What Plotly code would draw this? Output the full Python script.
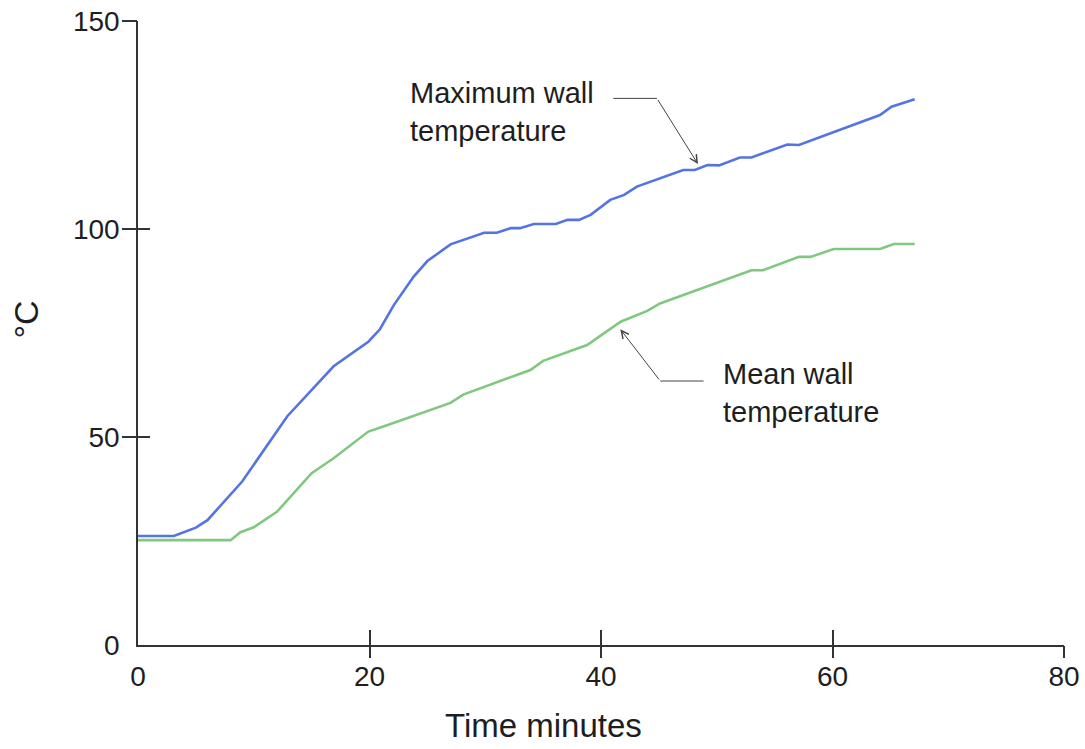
import plotly.graph_objects as go

# ---- data ----
max_t = [0, 3.1, 5.0, 6.0, 9.0, 12.9, 16.9, 19.9, 20.9, 22.1, 23.8, 25.0, 27.0, 29.9, 31.0,
         32.2, 33.0, 34.2, 36.1, 37.1, 38.1, 39.1, 40.8, 42.0, 43.1, 44.3, 47.1, 48.1, 49.2,
         50.2, 52.0, 53.0, 56.1, 57.1, 64.1, 65.1, 67.1]
max_temp = [26.2, 26.2, 28.2, 30.0, 39.3, 55.0, 67.0, 72.9, 75.9, 81.7, 88.5, 92.3, 96.3, 99.1, 99.1,
            100.2, 100.2, 101.2, 101.2, 102.2, 102.2, 103.4, 107.0, 108.2, 110.2, 111.4, 114.2, 114.2, 115.4,
            115.3, 117.2, 117.2, 120.3, 120.2, 127.4, 129.4, 131.2]

mean_t = [0, 8.0, 8.85, 10.0, 12.0, 15.0, 16.9, 19.9, 21.2, 27.0, 28.1, 33.9, 35.0, 38.8, 41.7,
          43.4, 44.0, 45.1, 53.0, 54.0, 57.1, 58.1, 60.1, 64.1, 65.3, 67.1]
mean_temp = [25.2, 25.2, 27.1, 28.3, 32.0, 41.3, 44.9, 51.3, 52.5, 58.2, 60.2, 66.1, 68.3, 72.1, 77.7,
             79.7, 80.3, 82.1, 90.1, 90.1, 93.3, 93.3, 95.2, 95.2, 96.4, 96.4]

x_label_vals = [0, 20, 40, 60, 80]
x_tick_vals = [20, 40, 60, 80]
y_label_vals = [0, 50, 100, 150]
y_tick_vals = [50, 100, 150]

x_title = "Time minutes"
y_title = "°C"
max_label = "Maximum wall<br>temperature"
mean_label = "Mean wall<br>temperature"

FONT = "Liberation Sans, Arial, sans-serif"
AXC = "#333333"
TXT = "#1e1e1e"

fig = go.Figure()
fig.add_trace(go.Scatter(x=max_t, y=max_temp, mode="lines",
                         line=dict(color="#5374E2", width=2.6), hoverinfo="skip"))
fig.add_trace(go.Scatter(x=mean_t, y=mean_temp, mode="lines",
                         line=dict(color="#80C880", width=2.6), hoverinfo="skip"))
# empty traces so the tick-only overlay axes are rendered
fig.add_trace(go.Scatter(x=[], y=[], xaxis="x2", yaxis="y2", hoverinfo="skip"))
fig.add_trace(go.Scatter(x=[], y=[], xaxis="x3", yaxis="y3", hoverinfo="skip"))

common = dict(showgrid=False, zeroline=False, fixedrange=True, automargin=False)
fig.update_layout(
    width=1085, height=749,
    margin=dict(l=138, r=21, t=21, b=104),
    paper_bgcolor="white", plot_bgcolor="white",
    showlegend=False,
    font=dict(family=FONT, color=TXT),
    xaxis=dict(range=[0, 80], tickvals=x_label_vals, ticks="", showline=True,
               linecolor=AXC, linewidth=1.5, tickfont=dict(size=28, color=TXT),
               ticklabelstandoff=6, **common),
    yaxis=dict(range=[0, 150], tickvals=y_label_vals, ticks="", showline=True,
               linecolor=AXC, linewidth=1.5, tickfont=dict(size=28, color=TXT),
               ticklabelstandoff=11, **common),
    xaxis2=dict(range=[0, 80], tickvals=x_tick_vals, ticks="outside", ticklen=12,
                tickwidth=1.5, tickcolor=AXC, showticklabels=False, showline=False,
                overlaying="x", anchor="y2", side="bottom", **common),
    yaxis2=dict(range=[0, 150], tickvals=y_tick_vals, ticks="outside", ticklen=15,
                tickwidth=1.5, tickcolor=AXC, showticklabels=False, showline=False,
                overlaying="y", anchor="x2", side="left", **common),
    xaxis3=dict(range=[0, 80], tickvals=x_tick_vals, ticks="inside", ticklen=15,
                tickwidth=1.5, tickcolor=AXC, showticklabels=False, showline=False,
                overlaying="x", anchor="y3", side="bottom", **common),
    yaxis3=dict(range=[0, 150], tickvals=y_tick_vals, ticks="inside", ticklen=12,
                tickwidth=1.5, tickcolor=AXC, showticklabels=False, showline=False,
                overlaying="y", anchor="x3", side="left", **common),
)

# axis titles
fig.add_annotation(text=x_title, xref="paper", yref="paper", x=0.4377, y=-0.1295,
                   xanchor="center", yanchor="middle", showarrow=False,
                   font=dict(size=33, color=TXT, family=FONT))
fig.add_annotation(text=y_title, xref="paper", yref="paper", x=-0.1214, y=0.521,
                   xanchor="center", yanchor="middle", showarrow=False, textangle=-90,
                   font=dict(size=34, color=TXT, family=FONT))

# series labels
fig.add_annotation(text=max_label, xref="x", yref="y", x=23.3, y=128.1, xanchor="left",
                   yanchor="middle", align="left", showarrow=False,
                   font=dict(size=29, color=TXT, family=FONT))
fig.add_annotation(text=mean_label, xref="x", yref="y", x=50.4, y=60.5, xanchor="left",
                   yanchor="middle", align="left", showarrow=False,
                   font=dict(size=29, color=TXT, family=FONT))

# leader lines: horizontal part + arrow
ARC = "#444444"
fig.add_shape(type="line", xref="x", yref="y", x0=41.06, y0=131.4, x1=44.83, y1=131.4,
              line=dict(color=ARC, width=1))
fig.add_annotation(text="", xref="x", yref="y", x=48.38, y=115.6, axref="x", ayref="y",
                   ax=44.83, ay=131.4, showarrow=True, arrowhead=5, arrowsize=1.5,
                   arrowwidth=1, arrowcolor=ARC, standoff=0)
fig.add_shape(type="line", xref="x", yref="y", x0=48.86, y0=63.46, x1=45.12, y1=63.46,
              line=dict(color=ARC, width=1))
fig.add_annotation(text="", xref="x", yref="y", x=41.67, y=75.9, axref="x", ayref="y",
                   ax=45.12, ay=63.46, showarrow=True, arrowhead=5, arrowsize=1.5,
                   arrowwidth=1, arrowcolor=ARC, standoff=0)

fig.write_html("out.html")
